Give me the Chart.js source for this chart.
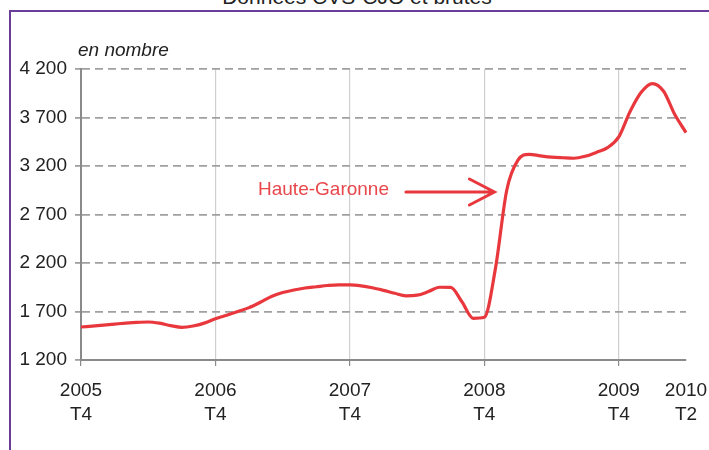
<!DOCTYPE html>
<html lang="fr">
<head>
<meta charset="UTF-8">
<title>Haute-Garonne - en nombre</title>
<script src="https://cdn.jsdelivr.net/npm/chart.js"></script>
<style>
  html, body { margin: 0; padding: 0; background: #fff; }
  body { width: 709px; height: 450px; position: relative; overflow: hidden; font-family: "Liberation Sans", Arial, sans-serif; }
  #titre { position: absolute; left: 0; width: 714px; top: -14px; text-align: center; font-size: 21px; line-height: 21px; color: #222; }
  #cadre { position: absolute; left: 9px; top: 10px; width: 720px; height: 460px; border-left: 2px solid #6a3d9a; border-top: 2px solid #6a3d9a; }
  #graphique { position: absolute; left: 0; top: 0; }
</style>
</head>
<body>

<div id="titre">Données CVS-CJO et brutes</div>
<div id="cadre"></div>
<canvas id="graphique" width="709" height="450"></canvas>

<script>
  // valeurs mensuelles, de déc. 2005 (2005 T4) à juin 2010 (2010 T2)
  const serie = 'Haute-Garonne';
  const valeurs = [
    1540, 1550, 1560, 1570, 1580, 1588, 1592, 1580, 1555, 1537, 1550, 1580,
    1625, 1662, 1700, 1740, 1795, 1855, 1895, 1922, 1942, 1955, 1968, 1975,
    1975, 1965, 1945, 1918, 1888, 1862, 1868, 1905, 1950, 1948, 1800, 1630,
    1640, 2150, 2950, 3260, 3320, 3305, 3292, 3285, 3280, 3300, 3340, 3390,
    3500, 3760, 3960, 4050, 3970, 3730, 3545
  ];

  // une étiquette par mois
  var mois = [];
  for (var i = 0; i < valeurs.length; i++) {
    var m = (11 + i) % 12 + 1;
    var a = 2005 + Math.floor((11 + i) / 12);
    mois.push(a + '-' + (m < 10 ? '0' + m : m));
  }

  // étiquettes de l'axe horizontal
  const repereMois = ['2005-12', '2006-12', '2007-12', '2008-12', '2009-12', '2010-06'];
  const repereAnnee = ['2005', '2006', '2007', '2008', '2009', '2010'];
  const repereTrim = ['T4', 'T4', 'T4', 'T4', 'T4', 'T2'];

  const yMin = 1200, yMax = 4200, yPas = 500;

  const rouge = '#e8383d';

  // flèche et nom de la série (en unités du graphique)
  const annotation = { texteX: 15.8, texteY: 2950, flecheDe: 29, flecheA: 36.9, flecheY: 2932 };

  function formatMillier(v) {
    return String(v).replace(/\B(?=(\d{3})+(?!\d))/g, ' ');
  }

  const pluginTextes = {
    id: 'textes',
    afterDatasetsDraw(chart) {
      const ctx = chart.ctx;
      const x = chart.scales.x, y = chart.scales.y;
      ctx.save();

      // en nombre
      ctx.fillStyle = '#222';
      ctx.font = 'italic 19px "Liberation Sans", Arial, sans-serif';
      ctx.textBaseline = 'middle';
      ctx.textAlign = 'left';
      ctx.fillText('en nombre', chart.chartArea.left - 3, chart.chartArea.top - 18);

      // nom de la série
      ctx.fillStyle = '#e8474c';
      ctx.font = '19px "Liberation Sans", Arial, sans-serif';
      ctx.fillText(serie, x.getPixelForValue(annotation.texteX), y.getPixelForValue(annotation.texteY));

      // flèche
      const x1 = x.getPixelForValue(annotation.flecheDe);
      const x2 = x.getPixelForValue(annotation.flecheA);
      const yf = y.getPixelForValue(annotation.flecheY);
      ctx.strokeStyle = rouge;
      ctx.lineWidth = 3;
      ctx.lineCap = 'round';
      ctx.beginPath();
      ctx.moveTo(x1, yf);
      ctx.lineTo(x2, yf);
      ctx.moveTo(x2 - 25, yf - 13);
      ctx.lineTo(x2, yf);
      ctx.lineTo(x2 - 25, yf + 13);
      ctx.stroke();
      ctx.restore();
    }
  };

  new Chart(document.getElementById('graphique'), {
    type: 'line',
    data: {
      labels: mois,
      datasets: [{
        label: serie,
        data: valeurs,
        borderColor: rouge,
        borderWidth: 3.2,
        pointRadius: 0,
        cubicInterpolationMode: 'monotone',
        fill: false
      }]
    },
    options: {
      responsive: false,
      animation: false,
      layout: { padding: { left: 0, top: 69, right: 0, bottom: 0 } },
      plugins: { legend: { display: false }, tooltip: { enabled: false } },
      scales: {
        x: {
          afterFit: s => { s.height = 90; s.paddingLeft = 0; s.paddingRight = 23; },
          border: { display: true, color: '#8a8a8a', width: 2 },
          grid: {
            color: c => (repereMois.indexOf(mois[c.index]) > 0 && mois[c.index] !== '2010-06') ? '#cfcfcf' : 'rgba(0,0,0,0)',
            tickColor: c => (repereMois.indexOf(mois[c.index]) >= 0 && mois[c.index] !== '2010-06') ? '#8a8a8a' : 'rgba(0,0,0,0)',
            lineWidth: 1.2,
            drawTicks: true,
            tickLength: 6
          },
          ticks: {
            autoSkip: false,
            maxRotation: 0,
            padding: 12,
            color: '#222',
            font: { size: 19, family: '"Liberation Sans", Arial, sans-serif', lineHeight: 1.3 },
            callback: function (v, i) {
              var k = repereMois.indexOf(mois[i]);
              return k >= 0 ? [repereAnnee[k], repereTrim[k]] : '';
            }
          }
        },
        y: {
          min: yMin,
          max: yMax,
          afterFit: s => { s.width = 81; },
          border: { display: true, color: '#8a8a8a', width: 2, dash: [8, 5] },
          grid: {
            color: '#a0a0a0',
            lineWidth: 1.8,
            tickBorderDash: [],
            tickLength: 6
          },
          ticks: {
            stepSize: yPas,
            padding: 8,
            color: '#222',
            font: { size: 19, family: '"Liberation Sans", Arial, sans-serif' },
            callback: v => formatMillier(v)
          }
        }
      }
    },
    plugins: [pluginTextes]
  });
</script>
</body>
</html>
